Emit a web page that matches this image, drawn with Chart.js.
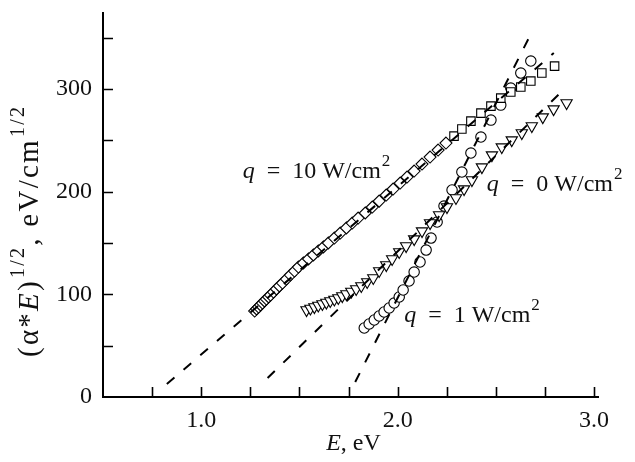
<!DOCTYPE html>
<html>
<head>
<meta charset="utf-8">
<script src="https://cdn.jsdelivr.net/npm/chart.js@4.4.1/dist/chart.umd.min.js"></script>
<style>
html,body{margin:0;padding:0;background:#fff;}
#wrap{width:635px;height:462px;position:relative;}
</style>
</head>
<body>
<div id="wrap"><canvas id="c"></canvas></div>
<script>
// ---- data ----
const squaresE = [1.272,1.282,1.292,1.302,1.312,1.322,1.332,1.343,1.353,1.368,1.383,1.398,1.414,1.434,1.454,1.475,1.495,1.520,1.546,1.571,1.596,1.622,1.647,1.678,1.708,1.739,1.769,1.799,1.835,1.871,1.906,1.942,1.977,2.013,2.048,2.084,2.124,2.165,2.206,2.246,2.287,2.327,2.373,2.424,2.475,2.525,2.576,2.627,2.678,2.734,2.799];
const squaresY = [83.7,85.7,87.6,89.6,91.5,93.5,95.4,97.4,99.3,102.2,105.2,108.1,111.0,114.9,118.8,122.7,126.6,130.5,134.4,138.3,142.2,146.1,150.0,154.8,159.7,164.6,169.4,174.3,179.2,185.0,190.8,196.7,202.5,208.4,214.2,220.1,226.9,233.7,240.5,247.3,254.1,261.0,268.7,276.5,283.3,291.1,297.0,301.9,307.7,315.5,322.3];

const trianglesE = [1.536,1.556,1.576,1.596,1.617,1.637,1.657,1.678,1.698,1.718,1.739,1.764,1.789,1.815,1.845,1.876,1.906,1.942,1.972,2.008,2.043,2.084,2.124,2.165,2.211,2.251,2.297,2.338,2.378,2.429,2.480,2.530,2.581,2.632,2.683,2.739,2.794,2.860];
const trianglesY = [84.7,86.2,87.6,89.1,90.6,92.0,93.5,95.0,96.4,98.3,100.3,102.7,105.2,108.1,112.0,115.9,122.7,128.5,134.4,141.2,147.0,153.8,161.6,169.4,177.2,185.0,193.8,202.5,211.3,223.9,235.6,243.4,250.2,257.1,263.9,272.6,280.4,286.3];

const circlesE = [1.830,1.855,1.881,1.906,1.931,1.957,1.982,2.008,2.028,2.058,2.084,2.114,2.145,2.170,2.201,2.236,2.277,2.327,2.373,2.424,2.475,2.525,2.576,2.627,2.678];
const circlesY = [67.2,71.1,75.0,78.9,82.8,86.7,91.5,97.4,104.2,113.0,121.7,131.5,143.1,154.8,170.4,186.0,201.6,219.1,237.6,253.2,269.7,284.3,300.9,315.5,327.2];

// fitted (dashed) lines: end points
const fitQ10E = [0.825, 2.795];
const fitQ10Y = [12.7, 335.0];
const fitQ0E  = [1.338, 2.850];
const fitQ0Y  = [18.5, 300.3];
const fitQ1E  = [1.784, 2.683];
const fitQ1Y  = [14.6, 355.4];

// ticks
const xTickLabels = [1.0, 2.0, 3.0];
const yTickLabels = [0, 100, 200, 300];
const xTickMarks = [0.75,1.0,1.25,1.5,1.75,2.0,2.25,2.5,2.75,3.0];
const yTickMarks = [50,100,150,200,250,300,350];

// series labels
const seriesLabels = ['q = 10 W/cm2', 'q = 0 W/cm2', 'q = 1 W/cm2'];
const seriesLabelNum = ['10', '0', '1'];
const seriesLabelAtE = [1.211, 2.454, 2.033];
const seriesLabelAtY = [213, 200.6, 73];

// ---- helpers ----
const pts = (xs, ys) => xs.map((x, i) => ({x: x, y: ys[i]}));
const SERIF = '"Liberation Serif", "Times New Roman", serif';

function richWidth(ctx, segs, track) {
  let w = 0, n = 0;
  for (const s of segs) {
    w += (s.pre || 0);
    ctx.font = s.font;
    for (const ch of s.t) { w += ctx.measureText(ch).width; n++; }
  }
  return w + track * (n - 1);
}
function drawRich(ctx, segs, x, y, track) {
  let cx = x;
  for (const s of segs) {
    cx += (s.pre || 0);
    ctx.font = s.font;
    for (const ch of s.t) {
      ctx.fillText(ch, cx, y + (s.dy || 0));
      cx += ctx.measureText(ch).width + track;
    }
  }
}

const tickPlugin = {
  id: 'inwardTicks',
  afterDraw(chart) {
    const ctx = chart.ctx, xs = chart.scales.x, ys = chart.scales.y;
    const ca = chart.chartArea;
    ctx.save();
    ctx.strokeStyle = '#000';
    ctx.lineWidth = 1.6;
    ctx.beginPath();
    for (const v of xTickMarks) {
      const px = Math.round(xs.getPixelForValue(v)) + 0.5;
      ctx.moveTo(px, ca.bottom);
      ctx.lineTo(px, ca.bottom - 10);
    }
    for (const v of yTickMarks) {
      const py = Math.round(ys.getPixelForValue(v)) + 0.5;
      ctx.moveTo(ca.left, py);
      ctx.lineTo(ca.left + 10, py);
    }
    ctx.stroke();
    ctx.restore();
  }
};

const textPlugin = {
  id: 'richText',
  afterDraw(chart) {
    const ctx = chart.ctx, xs = chart.scales.x, ys = chart.scales.y;
    const ca = chart.chartArea;
    ctx.save();
    ctx.fillStyle = '#111';
    ctx.textBaseline = 'alphabetic';
    ctx.textAlign = 'left';
    const F = '24px ' + SERIF, FI = 'italic 24px ' + SERIF, FS = '17px ' + SERIF;
    // series labels
    for (let i = 0; i < seriesLabels.length; i++) {
      const segs = [
        {t: 'q', font: FI},
        {t: '=', font: F, pre: 12},
        {t: seriesLabelNum[i] + ' W/cm', font: F, pre: 12},
        {t: '2', font: FS, dy: -12, pre: 1}
      ];
      drawRich(ctx, segs, xs.getPixelForValue(seriesLabelAtE[i]), ys.getPixelForValue(seriesLabelAtY[i]), 0);
    }
    // x title
    const xt = [{t: 'E', font: FI}, {t: ', eV', font: F}];
    const xw = richWidth(ctx, xt, 0);
    drawRich(ctx, xt, (ca.left + ca.right) / 2 + 3 - xw / 2, ca.bottom + 53, 0);
    // y title (rotated)
    const TF = '29px ' + SERIF, TFI = 'italic 29px ' + SERIF, TS = '20px ' + SERIF;
    const yt = [
      {t: '(\u03b1*', font: TF},
      {t: 'E', font: TFI},
      {t: ')', font: TF},
      {t: '1/2', font: TS, dy: -14, pre: 1},
      {t: ', eV/cm', font: TF},
      {t: '1/2', font: TS, dy: -14, pre: 1}
    ];
    const target = 250;
    const base = richWidth(ctx, yt, 0);
    let n = 0; for (const s of yt) n += [...s.t].length;
    const track = Math.max(0, (target - base) / (n - 1));
    ctx.translate(38, (ca.top + ca.bottom) / 2 + 27);
    ctx.rotate(-Math.PI / 2);
    drawRich(ctx, yt, -target / 2, 0, track);
    ctx.restore();
  }
};

const dashed = (label, xs, ys) => ({
  label: label,
  data: pts(xs, ys),
  showLine: true,
  borderColor: '#000',
  borderWidth: 2,
  borderDash: [10, 12],
  pointRadius: 0,
  fill: false,
  order: -1
});

const marker = {
  borderColor: '#000',
  backgroundColor: '#fff',
  pointBackgroundColor: '#fff',
  pointBorderColor: '#000',
  pointBorderWidth: 1.1,
  showLine: false
};

new Chart(document.getElementById('c'), {
  type: 'scatter',
  data: {
    datasets: [
      dashed('fit q=10', fitQ10E, fitQ10Y),
      dashed('fit q=0', fitQ0E, fitQ0Y),
      dashed('fit q=1', fitQ1E, fitQ1Y),
      Object.assign({label: seriesLabels[0], data: pts(squaresE, squaresY), pointStyle: 'rect', pointRadius: 6,
        pointRotation: (c) => (c.raw && c.raw.x < 2.25 ? 45 : 0)}, marker),
      Object.assign({label: seriesLabels[1], data: pts(trianglesE, trianglesY), pointStyle: 'triangle', pointRadius: 6.5,
        pointRotation: 180}, marker),
      Object.assign({label: seriesLabels[2], data: pts(circlesE, circlesY), pointStyle: 'circle', pointRadius: 5.2}, marker)
    ]
  },
  options: {
    responsive: true,
    maintainAspectRatio: false,
    animation: false,
    layout: {padding: {left: 0, right: 37, top: 13, bottom: 0}},
    plugins: {legend: {display: false}, tooltip: {enabled: false}},
    scales: {
      x: {
        type: 'linear', min: 0.5, max: 3.02,
        grid: {display: false, drawTicks: false},
        border: {display: true, color: '#000', width: 2},
        afterBuildTicks: (s) => { s.ticks = xTickLabels.map(v => ({value: v})); },
        afterFit: (s) => { s.height = 65; s.paddingLeft = 0; s.paddingRight = 0; },
        ticks: {color: '#111', padding: 9, maxRotation: 0, autoSkip: false,
          font: {family: SERIF, size: 24},
          callback: (v) => Number(v).toFixed(1)}
      },
      y: {
        type: 'linear', min: 0, max: 374,
        grid: {display: false, drawTicks: false},
        border: {display: true, color: '#000', width: 2},
        afterBuildTicks: (s) => { s.ticks = yTickLabels.map(v => ({value: v})); },
        afterFit: (s) => { s.width = 103; s.paddingTop = 0; s.paddingBottom = 0; },
        ticks: {color: '#111', padding: 11, autoSkip: false,
          font: {family: SERIF, size: 24},
          callback: (v) => String(v)}
      }
    }
  },
  plugins: [tickPlugin, textPlugin]
});
</script>
</body>
</html>
